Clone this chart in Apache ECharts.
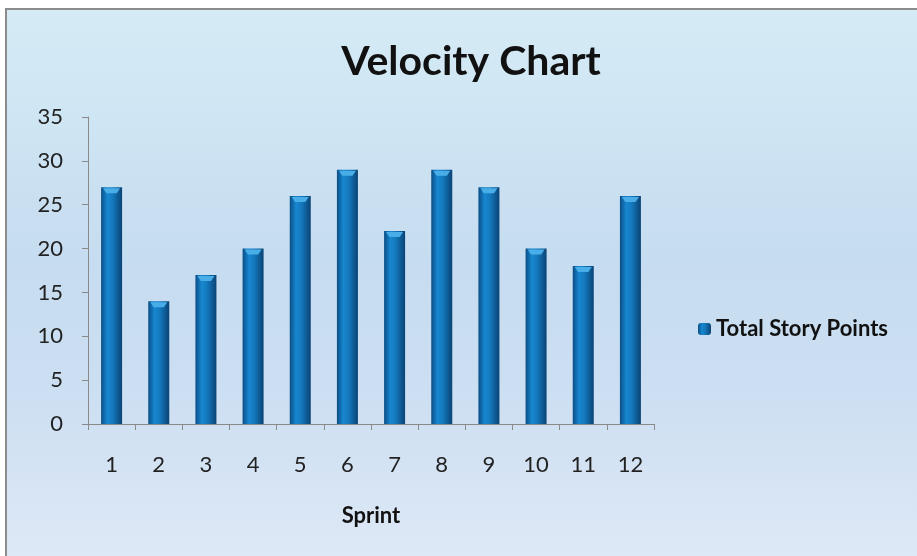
<!DOCTYPE html>
<html>
<head>
<meta charset="utf-8">
<script src="https://cdn.jsdelivr.net/npm/echarts@6/dist/echarts.min.js"></script>
<style>
  html, body { margin: 0; padding: 0; background: #fff; }
  #frame {
    position: absolute; left: 5px; top: 8px; width: 920px; height: 560px;
    border: 2px solid #8c8c8c; box-sizing: border-box;
    background: linear-gradient(to bottom, #d5ecf6 0%, #c6dcf0 45%, #cddff2 70%, #dfe9f6 100%);
  }
  #chart { position: absolute; left: 0; top: 0; width: 917px; height: 556px; }
</style>
</head>
<body>
<div id="frame"></div>
<div id="chart"></div>
<script>
  // sprint numbers and points per sprint
  const sprints = ['1', '2', '3', '4', '5', '6', '7', '8', '9', '10', '11', '12']
  const storyPoints = [27, 14, 17, 20, 26, 29, 22, 29, 27, 20, 18, 26]
  const yTicks = [0, 5, 10, 15, 20, 25, 30, 35]

  const chart = echarts.init(document.getElementById('chart'))

  const barFill = new echarts.graphic.LinearGradient(0, 0, 1, 0, [
    { offset: 0, color: '#0b4e86' },
    { offset: 0.3, color: '#1787d0' },
    { offset: 0.55, color: '#1479bd' },
    { offset: 1, color: '#0a4375' }
  ])

  const options = {
    animation: false,
    textStyle: { fontFamily: 'Lato, "Open Sans", sans-serif' },
    title: {
      text: 'Velocity Chart',
      left: 466,
      top: 36,
      textAlign: 'center',
      textStyle: { fontSize: 41, fontWeight: 'bold', color: '#111', fontFamily: 'Lato, "Open Sans", sans-serif' }
    },
    legend: {
      left: 693,
      top: 313,
      itemWidth: 13,
      itemHeight: 12,
      itemGap: 6,
      textStyle: { fontSize: 22, fontWeight: 'bold', color: '#111' },
      data: ['Total Story Points']
    },
    grid: { left: 88, right: 263, top: 117, bottom: 132 },
    xAxis: {
      type: 'category',
      data: sprints,
      name: 'Sprint',
      nameLocation: 'middle',
      nameGap: 81,
      nameTextStyle: { fontSize: 22, fontWeight: 'bold', color: '#111' },
      axisLine: { lineStyle: { color: '#8a8a8a', width: 1 } },
      axisTick: { show: true, length: 6, lineStyle: { color: '#8a8a8a' } },
      axisLabel: { fontSize: 22, color: '#222', margin: 30 }
    },
    yAxis: {
      type: 'value',
      min: yTicks[0],
      max: yTicks[yTicks.length - 1],
      interval: yTicks[1] - yTicks[0],
      splitLine: { show: false },
      axisLine: { show: true, lineStyle: { color: '#8a8a8a', width: 1 } },
      axisTick: { show: true, length: 6, lineStyle: { color: '#8a8a8a' } },
      axisLabel: { fontSize: 22, color: '#222', margin: 25 }
    },
    series: [{
      name: 'Total Story Points',
      type: 'bar',
      data: storyPoints,
      barWidth: 21,
      itemStyle: { color: barFill }
    }, {
      // light bevel at the top of each bar
      type: 'pictorialBar',
      data: storyPoints,
      symbol: 'path://M0,0 L10,0 L8,3 L2,3 Z',
      symbolSize: [17, 5],
      symbolPosition: 'end',
      symbolOffset: [0, 1],
      barGap: '-100%',
      z: 3,
      itemStyle: { color: '#49aee8' },
      silent: true
    }]
  }

  chart.setOption(options)
</script>
</body>
</html>
